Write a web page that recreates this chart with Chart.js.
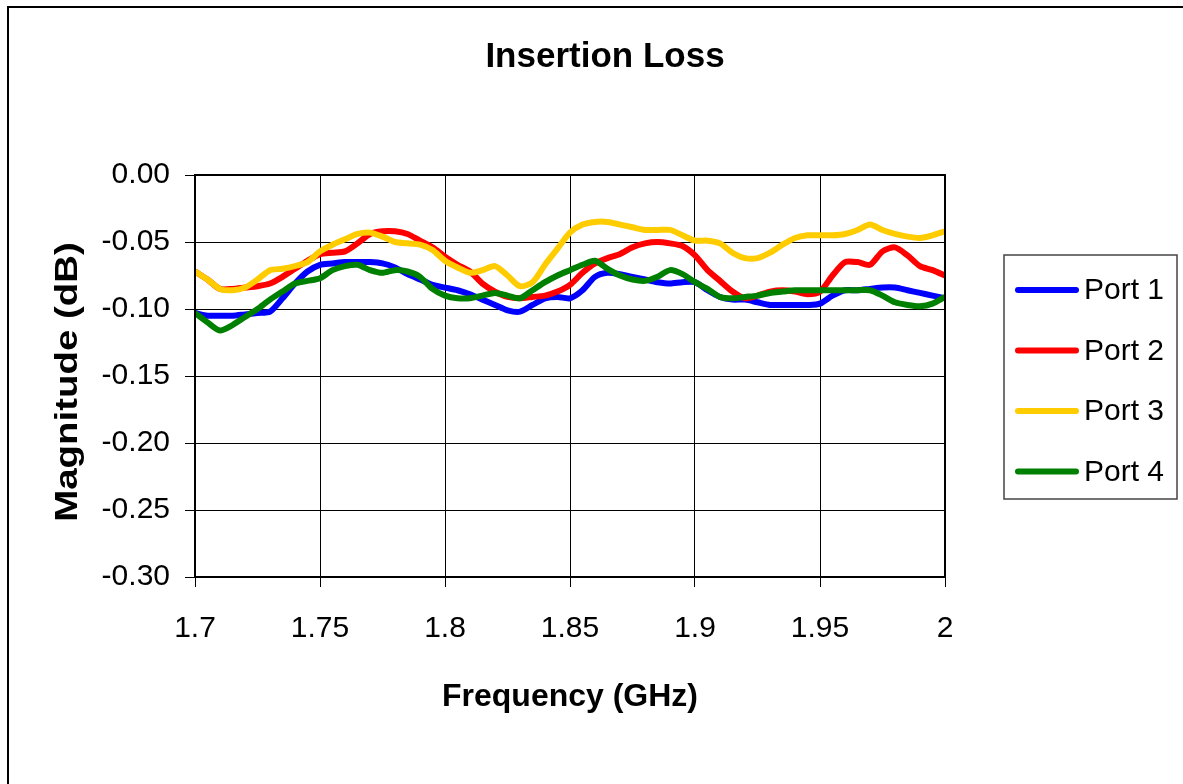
<!DOCTYPE html>
<html>
<head>
<meta charset="utf-8">
<title>Insertion Loss</title>
<script src="https://cdn.jsdelivr.net/npm/chart.js@4.4.0/dist/chart.umd.min.js"></script>
<style>
    body { margin: 0; background: #fff; }
    #wrap { width: 1183px; height: 784px; }
</style>
</head>
<body>
<div id="wrap"><canvas id="ilChart" width="1183" height="784"></canvas></div>
<script>
// Частоти (GHz)
const freqs = [
    1.700, 1.705, 1.710, 1.715, 1.720, 1.725, 1.730, 1.735, 1.740, 1.745,
    1.750, 1.755, 1.760, 1.765, 1.770, 1.775, 1.780, 1.785, 1.790, 1.795,
    1.800, 1.805, 1.810, 1.815, 1.820, 1.825, 1.830, 1.835, 1.840, 1.845,
    1.850, 1.855, 1.860, 1.865, 1.870, 1.875, 1.880, 1.885, 1.890, 1.895,
    1.900, 1.905, 1.910, 1.915, 1.920, 1.925, 1.930, 1.935, 1.940, 1.945,
    1.950, 1.955, 1.960, 1.965, 1.970, 1.975, 1.980, 1.985, 1.990, 1.995,
    2.000
];

const port1 = [
    -0.103, -0.105, -0.105, -0.105, -0.104, -0.103, -0.102, -0.092, -0.081, -0.072,
    -0.067, -0.066, -0.065, -0.065, -0.065, -0.066, -0.069, -0.074, -0.078, -0.082,
    -0.084, -0.086, -0.089, -0.093, -0.097, -0.101, -0.102, -0.097, -0.092, -0.091,
    -0.092, -0.086, -0.076, -0.073, -0.074, -0.076, -0.078, -0.080, -0.081, -0.080,
    -0.080, -0.086, -0.091, -0.093, -0.093, -0.095, -0.097, -0.097, -0.097, -0.097,
    -0.096, -0.090, -0.086, -0.086, -0.085, -0.084, -0.084, -0.086, -0.088, -0.090,
    -0.092
];

const port2 = [
    -0.072, -0.078, -0.085, -0.085, -0.084, -0.083, -0.081, -0.076, -0.070, -0.064,
    -0.059, -0.058, -0.057, -0.051, -0.044, -0.042, -0.042, -0.044, -0.049, -0.054,
    -0.061, -0.067, -0.072, -0.081, -0.087, -0.091, -0.092, -0.091, -0.090, -0.087,
    -0.082, -0.073, -0.066, -0.062, -0.059, -0.054, -0.051, -0.050, -0.051, -0.053,
    -0.060, -0.071, -0.079, -0.087, -0.092, -0.090, -0.087, -0.086, -0.087, -0.089,
    -0.087, -0.075, -0.065, -0.065, -0.067, -0.057, -0.054, -0.060, -0.068, -0.071,
    -0.075
];

const port3 = [
    -0.072, -0.078, -0.085, -0.086, -0.084, -0.078, -0.071, -0.070, -0.068, -0.065,
    -0.057, -0.052, -0.048, -0.044, -0.043, -0.046, -0.050, -0.051, -0.052, -0.056,
    -0.064, -0.069, -0.073, -0.071, -0.068, -0.075, -0.083, -0.080, -0.067, -0.055,
    -0.043, -0.037, -0.035, -0.035, -0.037, -0.039, -0.041, -0.041, -0.041, -0.045,
    -0.049, -0.049, -0.051, -0.058, -0.062, -0.062, -0.058, -0.052, -0.047, -0.045,
    -0.045, -0.045, -0.044, -0.041, -0.037, -0.041, -0.044, -0.046, -0.047, -0.045,
    -0.042
];

const port4 = [
    -0.103, -0.110, -0.116, -0.112, -0.106, -0.100, -0.093, -0.087, -0.081, -0.079,
    -0.077, -0.071, -0.068, -0.067, -0.071, -0.073, -0.071, -0.072, -0.076, -0.085,
    -0.090, -0.092, -0.092, -0.090, -0.088, -0.090, -0.092, -0.086, -0.080, -0.075,
    -0.071, -0.067, -0.064, -0.070, -0.075, -0.078, -0.079, -0.076, -0.071, -0.074,
    -0.080, -0.085, -0.091, -0.092, -0.091, -0.090, -0.088, -0.087, -0.086, -0.086,
    -0.086, -0.086, -0.086, -0.086, -0.086, -0.090, -0.095, -0.097, -0.098, -0.096,
    -0.091
];

const xTicks = [1.7, 1.75, 1.8, 1.85, 1.9, 1.95, 2.0];
const yTicks = [0, -0.05, -0.10, -0.15, -0.20, -0.25, -0.30];

const FONT = '"Liberation Sans", Arial, sans-serif';

function toPoints(values) {
    return values.map((v, i) => ({ x: freqs[i], y: v }));
}

function makeSet(label, values, color, order) {
    return {
        label,
        data: toPoints(values),
        borderColor: color,
        backgroundColor: color,
        borderWidth: 6,
        pointRadius: 0,
        tension: 0.25,
        order,
    };
}

// Рамки, заголовок та підпис осі Y (текст у джерелі витягнутий по вертикалі)
const framePlugin = {
    id: 'frame',
    afterDraw(chart) {
        const ctx = chart.ctx;
        const a = chart.chartArea;
        ctx.save();
        ctx.strokeStyle = '#000';
        ctx.lineWidth = 2;
        ctx.strokeRect(a.left, a.top, a.right - a.left, a.bottom - a.top);
        ctx.strokeRect(8, 7, 1200, 800);

        ctx.fillStyle = '#000';
        ctx.textAlign = 'center';
        ctx.textBaseline = 'alphabetic';
        ctx.font = 'bold 35px ' + FONT;
        ctx.fillText('Insertion Loss', 605, 67);

        ctx.translate(76.5, 382);
        ctx.rotate(-Math.PI / 2);
        ctx.scale(1.24, 1);
        ctx.font = 'bold 31px ' + FONT;
        ctx.fillText('Magnitude (dB)', 0, 0);
        ctx.restore();
    }
};

// Легенда справа у рамці
const legendBoxPlugin = {
    id: 'legendBox',
    afterDraw(chart) {
        const ctx = chart.ctx;
        ctx.save();
        ctx.strokeStyle = '#444';
        ctx.lineWidth = 1.5;
        ctx.strokeRect(1004, 255, 173, 244);
        ctx.font = '30px ' + FONT;
        ctx.textBaseline = 'middle';
        ctx.textAlign = 'left';
        chart.data.datasets.forEach((ds, k) => {
            const y = 290 + k * 60.5;
            ctx.strokeStyle = ds.borderColor;
            ctx.lineWidth = 6;
            ctx.lineCap = 'round';
            ctx.beginPath();
            ctx.moveTo(1018, y);
            ctx.lineTo(1076, y);
            ctx.stroke();
            ctx.fillStyle = '#000';
            ctx.fillText(ds.label, 1084, y + 1);
        });
        ctx.restore();
    }
};

window.onload = () => {
    new Chart(document.getElementById('ilChart').getContext('2d'), {
        type: 'line',
        data: {
            datasets: [
                makeSet('Port 1', port1, '#0000ff', 4),
                makeSet('Port 2', port2, '#ff0000', 3),
                makeSet('Port 3', port3, '#ffcc00', 2),
                makeSet('Port 4', port4, '#008000', 1),
            ],
        },
        options: {
            responsive: false,
            animation: false,
            layout: { padding: { top: 175, left: 40, right: 238, bottom: 60 } },
            plugins: {
                legend: { display: false },
                tooltip: { enabled: false },
                title: { display: false },
            },
            scales: {
                x: {
                    type: 'linear',
                    min: 1.7,
                    max: 2.0,
                    afterBuildTicks: (scale) => { scale.ticks = xTicks.map(v => ({ value: v })); },
                    afterFit: (scale) => { scale.height = 147; },
                    ticks: {
                        color: '#000',
                        font: { family: FONT, size: 30 },
                        padding: 24,
                        maxRotation: 0,
                        callback: (v) => String(+v.toFixed(2)),
                    },
                    grid: { color: '#000', lineWidth: 1, tickLength: 10, tickColor: '#000' },
                    border: { display: true, color: '#000', width: 2 },
                    title: {
                        display: true,
                        text: 'Frequency (GHz)',
                        color: '#000',
                        font: { family: FONT, size: 32, weight: 'bold' },
                        padding: { top: 0, bottom: 8 },
                    },
                },
                y: {
                    min: -0.3,
                    max: 0,
                    afterBuildTicks: (scale) => { scale.ticks = yTicks.map(v => ({ value: v })); },
                    afterFit: (scale) => { scale.width = 155; },
                    ticks: {
                        color: '#000',
                        font: { family: FONT, size: 30 },
                        padding: 15,
                        callback: (v) => v.toFixed(2),
                    },
                    grid: { color: '#000', lineWidth: 1, tickLength: 10, tickColor: '#000' },
                    border: { display: true, color: '#000', width: 2 },
                    title: { display: false },
                },
            },
        },
        plugins: [framePlugin, legendBoxPlugin],
    });
};
</script>
</body>
</html>
